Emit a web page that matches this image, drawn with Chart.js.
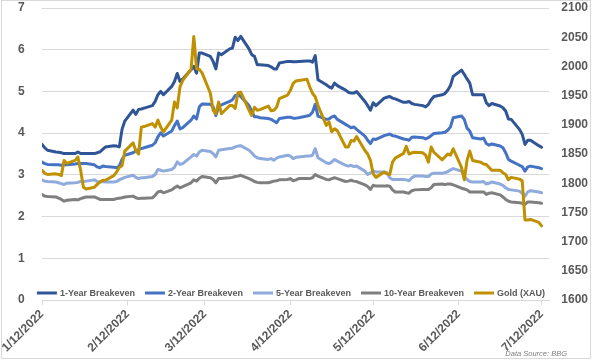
<!DOCTYPE html>
<html>
<head>
<meta charset="utf-8">
<script src="https://cdn.jsdelivr.net/npm/chart.js@4.4.1/dist/chart.umd.min.js"></script>
<style>
  html, body { margin: 0; padding: 0; background: #fff; }
</style>
</head>
<body>
<canvas id="chart" width="592" height="362"></canvas>
<script>
// x axis: trading days (Mon-Fri) from 1/12/2022 to 7/12/2022
const startDay = Date.UTC(2022, 0, 12);
const endDay = Date.UTC(2022, 6, 12);
const tickLabels = ["1/12/2022", "2/12/2022", "3/12/2022", "4/12/2022", "5/12/2022", "6/12/2022", "7/12/2022"];

const oneYear = [
  3.73, 3.65, 3.59, 3.55, 3.54, 3.53, 3.51, 3.51, 3.51, 3.55, 3.51, 3.51, 3.51,
  3.51, 3.53, 3.55, 3.61, 3.67, 3.70, 3.69, 3.67, 4.09, 4.29, 4.55, 4.45, 4.57,
  4.58, 4.60, 4.66, 4.76, 4.92, 5.00, 4.92,
  5.12, 5.24, 5.43, 5.24, 5.30, 5.52, 5.60, 5.44, 5.92, 5.92, 5.84, 5.72, 5.54,
  5.92, 5.88, 6.02, 6.04, 6.30, 6.22, 6.32, 6.02, 5.88, 5.84, 5.64, 5.64, 5.62,
  5.59, 5.54, 5.54, 5.68, 5.72, 5.72, 5.71,
  5.71, 5.72, 5.73, 5.73, 5.70, 5.86, 5.28, 5.16, 5.11, 5.08, 5.20, 5.14, 5.03,
  4.98, 4.96, 4.96, 5.00, 4.76, 4.66, 4.55, 4.73, 4.66, 4.84, 4.86, 4.88, 4.84,
  4.82, 4.74, 4.74, 4.76, 4.71, 4.69,
  4.66, 4.63, 4.69, 4.80, 4.88, 4.92, 4.95, 5.03, 5.14, 5.36, 5.51, 5.41, 5.30,
  5.20, 4.92, 4.92, 4.92, 4.73, 4.66, 4.71, 4.65, 4.61, 4.53, 4.34, 4.33, 4.09,
  3.97, 3.73, 3.83, 3.83, 3.70, 3.66
];
const twoYear = [
  3.31, 3.27, 3.25, 3.24, 3.24, 3.23, 3.24, 3.24, 3.26, 3.27, 3.27, 3.27, 3.27,
  3.24, 3.19, 3.17, 3.21, 3.20, 3.18, 3.17, 3.21, 3.37, 3.47, 3.53, 3.57, 3.61,
  3.63, 3.65, 3.71, 3.77, 3.91, 4.01, 3.93,
  4.05, 4.18, 4.29, 4.10, 4.13, 4.31, 4.41, 4.34, 4.63, 4.70, 4.69, 4.63, 4.42,
  4.63, 4.68, 4.76, 4.80, 4.90, 4.92, 4.88, 4.66, 4.53, 4.39, 4.39, 4.37, 4.35,
  4.33, 4.29, 4.25, 4.35, 4.38, 4.38, 4.36,
  4.36, 4.37, 4.41, 4.43, 4.50, 4.69, 4.41, 4.33, 4.34, 4.39, 4.41, 4.33, 4.21,
  4.17, 4.13, 4.15, 4.09, 3.93, 3.83, 3.75, 3.86, 3.85, 3.94, 3.96, 3.98, 3.94,
  3.93, 3.86, 3.85, 3.83, 3.90, 3.91,
  3.89, 3.86, 3.89, 3.94, 3.99, 4.01, 4.02, 4.07, 4.15, 4.37, 4.41, 4.33, 4.12,
  4.05, 3.89, 3.86, 3.88, 3.75, 3.71, 3.74, 3.69, 3.65, 3.53, 3.37, 3.33, 3.23,
  3.20, 3.09, 3.19, 3.21, 3.17, 3.15
];
const fiveYear = [
  2.88, 2.85, 2.84, 2.83, 2.81, 2.79, 2.77, 2.80, 2.81, 2.82, 2.84, 2.84, 2.85,
  2.88, 2.84, 2.83, 2.84, 2.83, 2.83, 2.84, 2.88, 2.91, 2.94, 2.99, 2.94, 2.91,
  2.93, 2.93, 2.96, 3.01, 3.13, 3.11, 3.09,
  3.13, 3.18, 3.31, 3.25, 3.27, 3.43, 3.49, 3.45, 3.55, 3.59, 3.56, 3.51, 3.43,
  3.59, 3.60, 3.63, 3.64, 3.67, 3.69, 3.70, 3.59, 3.53, 3.45, 3.41, 3.39, 3.37,
  3.39, 3.35, 3.40, 3.43, 3.47, 3.45, 3.39,
  3.42, 3.43, 3.45, 3.45, 3.47, 3.63, 3.41, 3.29, 3.27, 3.31, 3.37, 3.33, 3.23,
  3.21, 3.23, 3.20, 3.21, 3.09, 3.01, 3.05, 3.09, 3.07, 3.07, 3.05, 2.93, 2.89,
  2.89, 2.89, 2.88, 2.86, 2.93, 2.97,
  2.97, 2.96, 2.96, 3.02, 3.04, 3.04, 3.05, 3.08, 3.12, 3.15, 3.09, 2.97, 2.89,
  2.84, 2.83, 2.83, 2.84, 2.78, 2.80, 2.83, 2.78, 2.75, 2.69, 2.65, 2.64, 2.61,
  2.56, 2.49, 2.59, 2.62, 2.59, 2.57
];
const tenYear = [
  2.53, 2.49, 2.48, 2.47, 2.44, 2.41, 2.37, 2.39, 2.41, 2.40, 2.43, 2.45, 2.47,
  2.47, 2.44, 2.41, 2.41, 2.41, 2.41, 2.43, 2.44, 2.45, 2.47, 2.49, 2.45, 2.43,
  2.44, 2.44, 2.45, 2.51, 2.59, 2.61, 2.57,
  2.64, 2.69, 2.73, 2.69, 2.72, 2.81, 2.88, 2.85, 2.92, 2.96, 2.93, 2.89, 2.81,
  2.91, 2.91, 2.93, 2.94, 2.96, 2.97, 2.99, 2.91, 2.88, 2.84, 2.82, 2.81, 2.81,
  2.83, 2.85, 2.86, 2.88, 2.89, 2.91, 2.86,
  2.88, 2.91, 2.91, 2.91, 2.93, 3.01, 2.97, 2.89, 2.88, 2.91, 2.93, 2.91, 2.84,
  2.85, 2.87, 2.85, 2.84, 2.76, 2.72, 2.65, 2.75, 2.73, 2.73, 2.74, 2.73, 2.64,
  2.59, 2.59, 2.57, 2.56, 2.62, 2.64,
  2.65, 2.65, 2.65, 2.69, 2.77, 2.78, 2.77, 2.78, 2.78, 2.76, 2.68, 2.66, 2.64,
  2.59, 2.59, 2.59, 2.59, 2.53, 2.56, 2.57, 2.52, 2.47, 2.41, 2.37, 2.35, 2.33,
  2.32, 2.29, 2.35, 2.35, 2.33, 2.32
];
const gold = [
  1822, 1817, 1815, 1816, 1815, 1813, 1839, 1834, 1839, 1845, 1822, 1793, 1790,
  1793, 1798, 1802, 1805, 1805, 1813, 1819, 1827, 1830, 1855, 1869, 1856, 1850,
  1896, 1897, 1902, 1896, 1908, 1896, 1888,
  1908, 1939, 1929, 1965, 1976, 1995, 2051, 1996, 1995, 1989, 1954, 1925, 1919,
  1939, 1919, 1933, 1933, 1928, 1955, 1956, 1925, 1916, 1930, 1925, 1926, 1932,
  1924, 1925, 1930, 1945, 1951, 1959, 1971,
  1975, 1976, 1978, 1965, 1954, 1948, 1933, 1899, 1905, 1888, 1893, 1890, 1862,
  1862, 1873, 1872, 1880, 1856, 1850, 1839, 1816, 1810, 1819, 1816, 1815, 1836,
  1843, 1851, 1863, 1850, 1852, 1853,
  1852, 1848, 1836, 1862, 1853, 1840, 1845, 1850, 1848, 1859, 1827, 1806, 1839,
  1855, 1839, 1836, 1833, 1832, 1827, 1822, 1822, 1818, 1815, 1806, 1810, 1807,
  1804, 1737, 1737, 1738, 1733, 1727
];

const dayMs = 86400000;
const tradingDays = [];
for (let t = startDay; t <= endDay; t += dayMs) {
  const wd = new Date(t).getUTCDay();
  if (wd !== 0 && wd !== 6) tradingDays.push(Math.round((t - startDay) / dayMs));
}
const tickDays = tickLabels.map(s => {
  const [m, d, y] = s.split("/").map(Number);
  return Math.round((Date.UTC(y, m - 1, d) - startDay) / dayMs);
});

const toPoints = arr => tradingDays.map((d, i) => ({ x: d, y: arr[i] }));

const tickFont = { family: "Liberation Sans", size: 12, weight: "bold" };
const gridColor = "#D9D9D9";

function series(label, values, color, axis, order) {
  return {
    label: label,
    data: toPoints(values),
    yAxisID: axis,
    borderColor: color,
    backgroundColor: color,
    borderWidth: 3,
    pointRadius: 0,
    tension: 0,
    borderJoinStyle: "round",
    borderCapStyle: "round",
    order: order
  };
}

// legend sits inside the plot, plus chart border and source note
const overlay = {
  id: "overlay",
  beforeDraw(chart) {
    const ctx = chart.ctx;
    ctx.save();
    ctx.fillStyle = "#fff";
    ctx.fillRect(0, 0, chart.width, chart.height);
    ctx.strokeStyle = gridColor;
    ctx.lineWidth = 1;
    ctx.strokeRect(1.5, 0.5, 589, 358);
    ctx.restore();
  },
  afterDraw(chart) {
    const ctx = chart.ctx;
    const area = chart.chartArea;
    ctx.save();
    ctx.font = 'bold 9px "Liberation Sans"';
    const items = chart.data.datasets.map(ds => ({
      label: ds.label, color: ds.borderColor, w: ctx.measureText(ds.label).width
    }));
    const swatch = 20, gap = 3, spacing = 10;
    const total = items.reduce((s, it) => s + swatch + gap + it.w, 0) + spacing * (items.length - 1);
    let x = 291 - total / 2;
    const y = area.bottom - 7;
    ctx.textBaseline = "middle";
    ctx.textAlign = "left";
    items.forEach(it => {
      ctx.strokeStyle = it.color;
      ctx.lineWidth = 3;
      ctx.beginPath();
      ctx.moveTo(x, y);
      ctx.lineTo(x + swatch, y);
      ctx.stroke();
      ctx.fillStyle = "#595959";
      ctx.fillText(it.label, x + swatch + gap, y + 0.5);
      x += swatch + gap + it.w + spacing;
    });
    ctx.font = 'italic 7.5px "Liberation Sans"';
    ctx.textAlign = "right";
    ctx.fillStyle = "#7F7F7F";
    ctx.fillText("Data Source: BBG", 567, 354);
    ctx.restore();
  }
};

new Chart(document.getElementById("chart"), {
  type: "line",
  data: {
    datasets: [
      series("1-Year Breakeven", oneYear, "#2F5597", "y", 4),
      series("2-Year Breakeven", twoYear, "#4472C4", "y", 3),
      series("5-Year Breakeven", fiveYear, "#8FAADC", "y", 2),
      series("10-Year Breakeven", tenYear, "#7F7F7F", "y", 1),
      series("Gold (XAU)", gold, "#BF9000", "y2", 0)
    ]
  },
  options: {
    responsive: false,
    animation: false,
    devicePixelRatio: 1,
    layout: { padding: { top: 8, left: 18, right: 4, bottom: 0 } },
    plugins: {
      legend: { display: false },
      tooltip: { enabled: false }
    },
    scales: {
      x: {
        type: "linear",
        min: 0,
        max: 183.7,
        afterBuildTicks: scale => {
          scale.ticks = tickDays.map(v => ({ value: v }));
        },
        afterFit: scale => { scale.height = 62; },
        ticks: {
          autoSkip: false,
          minRotation: 45,
          maxRotation: 45,
          padding: 2,
          color: "#595959",
          font: tickFont,
          callback: (value, index) => tickLabels[index]
        },
        grid: { drawOnChartArea: false, drawTicks: true, tickLength: 5, color: gridColor },
        border: { display: true, color: gridColor }
      },
      y: {
        position: "left",
        min: 0,
        max: 7,
        afterFit: scale => { scale.width = 24; },
        ticks: { stepSize: 1, padding: 0, crossAlign: "far", color: "#595959", font: tickFont },
        grid: { color: gridColor, drawTicks: false },
        border: { display: false }
      },
      y2: {
        position: "right",
        min: 1600,
        max: 2100,
        afterFit: scale => { scale.width = 39; },
        ticks: {
          stepSize: 50, padding: 0, crossAlign: "far", color: "#595959", font: tickFont,
          callback: value => String(value)
        },
        grid: { drawOnChartArea: false, drawTicks: false },
        border: { display: false }
      }
    }
  },
  plugins: [overlay]
});
</script>
</body>
</html>
